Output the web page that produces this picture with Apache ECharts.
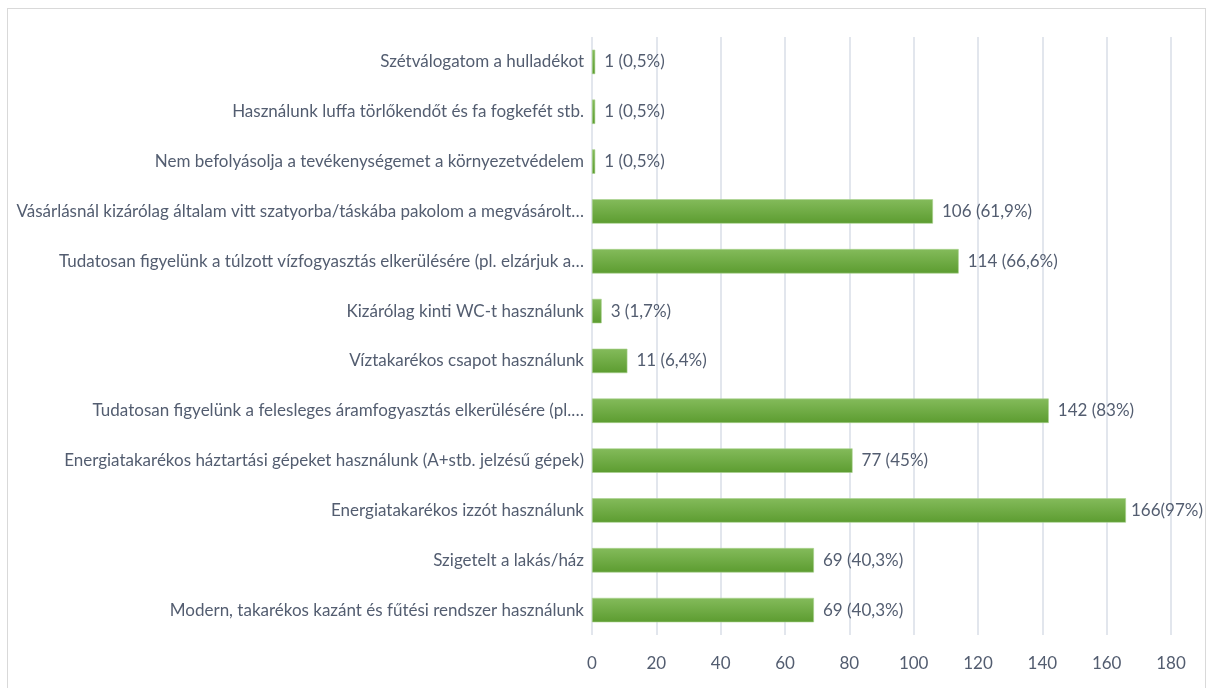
<!DOCTYPE html>
<html><head><meta charset="utf-8">
<script src="https://cdn.jsdelivr.net/npm/echarts@6/dist/echarts.min.js"></script>
<style>html,body{margin:0;padding:0;background:#fff}#c{width:1212px;height:688px}
#frame{position:absolute;left:7px;top:8px;width:1199px;height:690px;border:1px solid #d9d9d9;box-sizing:border-box;pointer-events:none}</style>
</head><body><div id="c"></div><div id="frame"></div>
<script>
const categories = [
  "Modern, takarékos kazánt és fűtési rendszer használunk",
  "Szigetelt a lakás/ház",
  "Energiatakarékos izzót használunk",
  "Energiatakarékos háztartási gépeket használunk (A+stb. jelzésű gépek)",
  "Tudatosan figyelünk a felesleges áramfogyasztás elkerülésére (pl.…",
  "Víztakarékos csapot használunk",
  "Kizárólag kinti WC-t használunk",
  "Tudatosan figyelünk a túlzott vízfogyasztás elkerülésére (pl. elzárjuk a…",
  "Vásárlásnál kizárólag általam vitt szatyorba/táskába pakolom a megvásárolt…",
  "Nem befolyásolja a tevékenységemet a környezetvédelem",
  "Használunk luffa törlőkendőt és fa fogkefét stb.",
  "Szétválogatom a hulladékot"
];
const values = [69, 69, 166, 81, 142, 11, 3, 114, 106, 1, 1, 1];
const labels = ["69 (40,3%)", "69 (40,3%)", "166(97%)", "77 (45%)", "142 (83%)", "11 (6,4%)", "3 (1,7%)", "114 (66,6%)", "106 (61,9%)", "1 (0,5%)", "1 (0,5%)", "1 (0,5%)"];
const xTicks = [0, 20, 40, 60, 80, 100, 120, 140, 160, 180];

const chart = echarts.init(document.getElementById('c'));
const txt = '#535d70';
const font = 'Lato, sans-serif';
const maxV = Math.max(...values);
const seriesData = values.map(v => v === maxV ? {value: v, label: {distance: 5}} : v);
chart.setOption({
  animation: false,
  grid: {left: 592, right: 41, top: 37, bottom: 53, containLabel: false},
  xAxis: {
    type: 'value', min: xTicks[0], max: xTicks[xTicks.length-1], interval: 20,
    axisLine: {show: false}, axisTick: {show: false},
    splitLine: {show: true, lineStyle: {color: '#d9dee7', width: 1.5}},
    axisLabel: {color: txt, fontSize: 17, fontFamily: font, margin: 20}
  },
  yAxis: {
    type: 'category', data: categories,
    axisLine: {show: false}, axisTick: {show: false},
    axisLabel: {color: txt, fontSize: 17, fontFamily: font, margin: 8}
  },
  series: [{
    type: 'bar', data: seriesData, barWidth: '49%',
    itemStyle: {
      color: new echarts.graphic.LinearGradient(0, 0, 0, 1, [
        {offset: 0, color: '#84bb5b'}, {offset: 1, color: '#5c9c30'}
      ]),
      borderColor: '#a9d18e', borderWidth: 0.6
    },
    label: {
      show: true, position: 'right', distance: 9, color: txt, fontSize: 17, fontFamily: font,
      formatter: p => labels[p.dataIndex]
    }
  }]
});
</script></body></html>
